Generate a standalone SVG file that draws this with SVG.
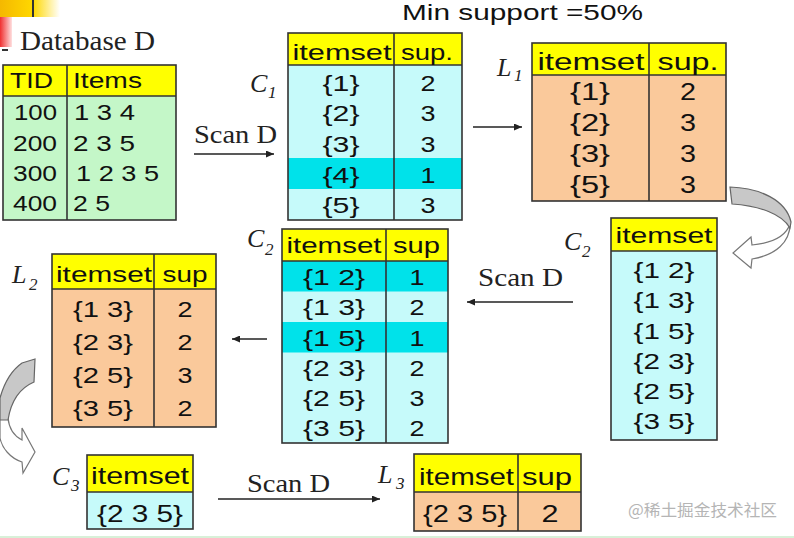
<svg xmlns="http://www.w3.org/2000/svg" width="794" height="538" viewBox="0 0 794 538">
<defs>
<linearGradient id="gl" x1="0" y1="0" x2="1" y2="0">
<stop offset="0" stop-color="#6e6e6e"/><stop offset="0.35" stop-color="#9a9a9a"/><stop offset="1" stop-color="#d8d8d8"/>
</linearGradient>
<linearGradient id="gy" x1="0" y1="0" x2="1" y2="0">
<stop offset="0" stop-color="#f5b800"/><stop offset="0.55" stop-color="#ffd800"/><stop offset="1" stop-color="#ffffff"/>
</linearGradient>
<linearGradient id="gr" x1="0" y1="0" x2="1" y2="0">
<stop offset="0" stop-color="#f03030"/><stop offset="1" stop-color="#ffe0e0"/>
</linearGradient>
<linearGradient id="gb" x1="0" y1="0" x2="1" y2="0">
<stop offset="0" stop-color="#2030c0"/><stop offset="1" stop-color="#ffffff"/>
</linearGradient>
<marker id="ah" markerUnits="userSpaceOnUse" markerWidth="8" markerHeight="7" refX="8" refY="3.5" orient="auto">
<path d="M0,0 L8,3.5 L0,7 Z" fill="#222"/>
</marker>
</defs>
<style>
.hdr{fill:#ffff00}
.grn{fill:#c4f7c8}
.cy{fill:#c6fafa}
.hi{fill:#00e2ea}
.or{fill:#fac99b}
.frame{fill:none;stroke:#333;stroke-width:1.6}
.ln{stroke:#333;stroke-width:1.6}
.t{font-family:"Liberation Sans",Arial,sans-serif;font-size:22px;fill:#111}
.big{font-size:23px}
.b24{font-size:24px}
.c{text-anchor:middle}
.s{font-family:"Liberation Serif","Times New Roman",serif;fill:#222}
.lab{font-style:italic;font-size:26px}
.sub{font-style:italic;font-size:17px}
.scan{font-size:26px}
.arr{stroke:#222;stroke-width:1.3;fill:none;marker-end:url(#ah)}
.cg{fill:#c8c8c8;stroke:#666;stroke-width:1.2}
.cw{fill:#ffffff;stroke:#777;stroke-width:1.2}
</style>

<g id="decor">
<rect x="0" y="0" width="60" height="17" fill="url(#gy)"/>
<line x1="33" y1="0" x2="33" y2="17" stroke="#333" stroke-width="2"/>
<rect x="0" y="17" width="12" height="30" fill="url(#gr)"/>
<line x1="160" y1="50" x2="794" y2="50" stroke="url(#gl)" stroke-width="3"/>
<rect x="12" y="18" width="150" height="44" fill="#ffffff"/>
<line x1="12" y1="62" x2="70" y2="62" stroke="url(#gb)" stroke-width="2"/>
<line x1="2" y1="50" x2="8" y2="50" stroke="#333" stroke-width="2"/>
<text class="s" x="20" y="50" font-size="27" textLength="135" lengthAdjust="spacingAndGlyphs">Database D</text>
<text class="t" x="402" y="20" font-size="24" textLength="241" lengthAdjust="spacingAndGlyphs">Min support =50%</text>
<line x1="0" y1="537" x2="794" y2="537" stroke="#d8f0d8" stroke-width="2"/>
</g>

<g id="db">
<rect class="grn" x="3" y="65" width="173" height="155"/>
<rect class="hdr" x="3" y="65" width="173" height="31"/>
<line class="ln" x1="3" y1="96" x2="176" y2="96"/>
<line class="ln" x1="67" y1="65" x2="67" y2="220"/>
<rect class="frame" x="3" y="65" width="173" height="155"/>
<text class="t" x="10" y="88" textLength="43" lengthAdjust="spacingAndGlyphs">TID</text>
<text class="t" x="73" y="88" textLength="69" lengthAdjust="spacingAndGlyphs">Items</text>
<text class="t" x="14" y="120" textLength="43" lengthAdjust="spacingAndGlyphs">100</text>
<text class="t" x="74" y="120" textLength="61" lengthAdjust="spacingAndGlyphs">1 3 4</text>
<text class="t" x="13" y="151" textLength="44" lengthAdjust="spacingAndGlyphs">200</text>
<text class="t" x="73" y="151" textLength="62" lengthAdjust="spacingAndGlyphs">2 3 5</text>
<text class="t" x="13" y="181" textLength="44" lengthAdjust="spacingAndGlyphs">300</text>
<text class="t" x="76" y="181" textLength="83" lengthAdjust="spacingAndGlyphs">1 2 3 5</text>
<text class="t" x="13" y="211" textLength="44" lengthAdjust="spacingAndGlyphs">400</text>
<text class="t" x="73" y="211" textLength="37" lengthAdjust="spacingAndGlyphs">2 5</text>
</g>

<g id="c1">
<rect class="cy" x="288" y="33" width="174" height="187"/>
<rect class="hi" x="288" y="158" width="174" height="31"/>
<rect class="hdr" x="288" y="33" width="174" height="32"/>
<line class="ln" x1="288" y1="65" x2="462" y2="65"/>
<line class="ln" x1="394" y1="33" x2="394" y2="220"/>
<rect class="frame" x="288" y="33" width="174" height="187"/>
<text class="t c" x="342" y="60" textLength="99" lengthAdjust="spacingAndGlyphs">itemset</text>
<text class="t c" x="427" y="60" textLength="52" lengthAdjust="spacingAndGlyphs">sup.</text>
<text class="t c" x="341" y="91" textLength="37" lengthAdjust="spacingAndGlyphs">{1}</text>
<text class="t c" x="341" y="121" textLength="37" lengthAdjust="spacingAndGlyphs">{2}</text>
<text class="t c" x="341" y="152" textLength="37" lengthAdjust="spacingAndGlyphs">{3}</text>
<text class="t c" x="341" y="183" textLength="37" lengthAdjust="spacingAndGlyphs">{4}</text>
<text class="t c" x="341" y="213" textLength="37" lengthAdjust="spacingAndGlyphs">{5}</text>
<text class="t c" x="428" y="91" textLength="15" lengthAdjust="spacingAndGlyphs">2</text>
<text class="t c" x="428" y="121" textLength="15" lengthAdjust="spacingAndGlyphs">3</text>
<text class="t c" x="428" y="152" textLength="15" lengthAdjust="spacingAndGlyphs">3</text>
<text class="t c" x="428" y="183" textLength="15" lengthAdjust="spacingAndGlyphs">1</text>
<text class="t c" x="428" y="213" textLength="15" lengthAdjust="spacingAndGlyphs">3</text>
<text class="s lab" x="250" y="92">C</text>
<text class="s sub" x="268" y="98">1</text>
</g>

<g id="l1">
<rect class="or" x="532" y="43" width="194" height="158"/>
<rect class="hdr" x="532" y="43" width="194" height="32"/>
<line class="ln" x1="532" y1="75" x2="726" y2="75"/>
<line class="ln" x1="649" y1="43" x2="649" y2="201"/>
<rect class="frame" x="532" y="43" width="194" height="158"/>
<text class="t big c" x="591" y="70" textLength="107" lengthAdjust="spacingAndGlyphs">itemset</text>
<text class="t big c" x="688" y="70" textLength="61" lengthAdjust="spacingAndGlyphs">sup.</text>
<text class="t big c" x="590" y="100" textLength="40" lengthAdjust="spacingAndGlyphs">{1}</text>
<text class="t big c" x="590" y="131" textLength="40" lengthAdjust="spacingAndGlyphs">{2}</text>
<text class="t big c" x="590" y="162" textLength="40" lengthAdjust="spacingAndGlyphs">{3}</text>
<text class="t big c" x="590" y="193" textLength="40" lengthAdjust="spacingAndGlyphs">{5}</text>
<text class="t big c" x="688" y="100" textLength="16" lengthAdjust="spacingAndGlyphs">2</text>
<text class="t big c" x="688" y="131" textLength="16" lengthAdjust="spacingAndGlyphs">3</text>
<text class="t big c" x="688" y="162" textLength="16" lengthAdjust="spacingAndGlyphs">3</text>
<text class="t big c" x="688" y="193" textLength="16" lengthAdjust="spacingAndGlyphs">3</text>
<text class="s lab" x="497" y="76">L</text>
<text class="s sub" x="514" y="81">1</text>
</g>

<g id="c2r">
<rect class="cy" x="611" y="218" width="106" height="222"/>
<rect class="hdr" x="611" y="218" width="106" height="33"/>
<line class="ln" x1="611" y1="251" x2="717" y2="251"/>
<rect class="frame" x="611" y="218" width="106" height="222"/>
<text class="t c" x="664" y="243" textLength="97" lengthAdjust="spacingAndGlyphs">itemset</text>
<text class="t c" x="664" y="278" textLength="61" lengthAdjust="spacingAndGlyphs">{1 2}</text>
<text class="t c" x="664" y="308" textLength="61" lengthAdjust="spacingAndGlyphs">{1 3}</text>
<text class="t c" x="664" y="339" textLength="61" lengthAdjust="spacingAndGlyphs">{1 5}</text>
<text class="t c" x="664" y="369" textLength="61" lengthAdjust="spacingAndGlyphs">{2 3}</text>
<text class="t c" x="664" y="399" textLength="61" lengthAdjust="spacingAndGlyphs">{2 5}</text>
<text class="t c" x="664" y="429" textLength="61" lengthAdjust="spacingAndGlyphs">{3 5}</text>
<text class="s lab" x="564" y="250">C</text>
<text class="s sub" x="582" y="257">2</text>
</g>

<g id="c2m">
<rect class="cy" x="282" y="229" width="166" height="214"/>
<rect class="hi" x="282" y="261" width="166" height="30.5"/>
<rect class="hi" x="282" y="322" width="166" height="30.5"/>
<rect class="hdr" x="282" y="229" width="166" height="32"/>
<line class="ln" x1="282" y1="261" x2="448" y2="261"/>
<line class="ln" x1="386" y1="229" x2="386" y2="443"/>
<rect class="frame" x="282" y="229" width="166" height="214"/>
<text class="t c" x="334" y="253" textLength="95" lengthAdjust="spacingAndGlyphs">itemset</text>
<text class="t c" x="416.5" y="253" textLength="47" lengthAdjust="spacingAndGlyphs">sup</text>
<text class="t c" x="334" y="285" textLength="62" lengthAdjust="spacingAndGlyphs">{1 2}</text>
<text class="t c" x="334" y="315" textLength="62" lengthAdjust="spacingAndGlyphs">{1 3}</text>
<text class="t c" x="334" y="345.5" textLength="62" lengthAdjust="spacingAndGlyphs">{1 5}</text>
<text class="t c" x="334" y="375.5" textLength="62" lengthAdjust="spacingAndGlyphs">{2 3}</text>
<text class="t c" x="334" y="406" textLength="62" lengthAdjust="spacingAndGlyphs">{2 5}</text>
<text class="t c" x="334" y="436" textLength="62" lengthAdjust="spacingAndGlyphs">{3 5}</text>
<text class="t c" x="417" y="285" textLength="15" lengthAdjust="spacingAndGlyphs">1</text>
<text class="t c" x="417" y="315" textLength="15" lengthAdjust="spacingAndGlyphs">2</text>
<text class="t c" x="417" y="345.5" textLength="15" lengthAdjust="spacingAndGlyphs">1</text>
<text class="t c" x="417" y="375.5" textLength="15" lengthAdjust="spacingAndGlyphs">2</text>
<text class="t c" x="417" y="406" textLength="15" lengthAdjust="spacingAndGlyphs">3</text>
<text class="t c" x="417" y="436" textLength="15" lengthAdjust="spacingAndGlyphs">2</text>
<text class="s lab" x="247" y="247">C</text>
<text class="s sub" x="265" y="255">2</text>
</g>

<g id="l2">
<rect class="or" x="52" y="254" width="164" height="173"/>
<rect class="hdr" x="52" y="254" width="164" height="35"/>
<line class="ln" x1="52" y1="289" x2="216" y2="289"/>
<line class="ln" x1="154" y1="254" x2="154" y2="427"/>
<rect class="frame" x="52" y="254" width="164" height="173"/>
<text class="t c" x="104" y="282" textLength="96" lengthAdjust="spacingAndGlyphs">itemset</text>
<text class="t c" x="185" y="282" textLength="45" lengthAdjust="spacingAndGlyphs">sup</text>
<text class="t c" x="103" y="317" textLength="60" lengthAdjust="spacingAndGlyphs">{1 3}</text>
<text class="t c" x="103" y="350" textLength="60" lengthAdjust="spacingAndGlyphs">{2 3}</text>
<text class="t c" x="103" y="383" textLength="60" lengthAdjust="spacingAndGlyphs">{2 5}</text>
<text class="t c" x="103" y="416" textLength="60" lengthAdjust="spacingAndGlyphs">{3 5}</text>
<text class="t c" x="185" y="317" textLength="15" lengthAdjust="spacingAndGlyphs">2</text>
<text class="t c" x="185" y="350" textLength="15" lengthAdjust="spacingAndGlyphs">2</text>
<text class="t c" x="185" y="383" textLength="15" lengthAdjust="spacingAndGlyphs">3</text>
<text class="t c" x="185" y="416" textLength="15" lengthAdjust="spacingAndGlyphs">2</text>
<text class="s lab" x="12" y="283">L</text>
<text class="s sub" x="29" y="290">2</text>
</g>

<g id="c3">
<rect class="cy" x="87" y="455" width="106" height="74"/>
<rect class="hdr" x="87" y="455" width="106" height="37"/>
<line class="ln" x1="87" y1="492" x2="193" y2="492"/>
<rect class="frame" x="87" y="455" width="106" height="74"/>
<text class="t b24 c" x="140" y="484" textLength="98" lengthAdjust="spacingAndGlyphs">itemset</text>
<text class="t b24 c" x="140" y="522" textLength="86" lengthAdjust="spacingAndGlyphs">{2 3 5}</text>
<text class="s lab" x="52" y="485">C</text>
<text class="s sub" x="71" y="491">3</text>
</g>

<g id="l3">
<rect class="or" x="414" y="454" width="167" height="77"/>
<rect class="hdr" x="414" y="454" width="167" height="38"/>
<line class="ln" x1="414" y1="492" x2="581" y2="492"/>
<line class="ln" x1="518" y1="454" x2="518" y2="531"/>
<rect class="frame" x="414" y="454" width="167" height="77"/>
<text class="t b24 c" x="466.5" y="485" textLength="95" lengthAdjust="spacingAndGlyphs">itemset</text>
<text class="t b24 c" x="547" y="485" textLength="50" lengthAdjust="spacingAndGlyphs">sup</text>
<text class="t b24 c" x="465" y="522" textLength="84" lengthAdjust="spacingAndGlyphs">{2 3 5}</text>
<text class="t b24 c" x="550" y="522" textLength="17" lengthAdjust="spacingAndGlyphs">2</text>
<text class="s lab" x="378" y="483">L</text>
<text class="s sub" x="396" y="489">3</text>
</g>

<g id="connectors">
<line class="arr" x1="194" y1="154" x2="274" y2="154"/>
<line class="arr" x1="473" y1="127" x2="522" y2="127"/>
<line class="arr" x1="573" y1="302" x2="467" y2="302"/>
<line class="arr" x1="267" y1="339" x2="232" y2="339"/>
<line class="arr" x1="218" y1="499" x2="380" y2="499"/>
<text class="s scan" x="194" y="143" textLength="83" lengthAdjust="spacingAndGlyphs">Scan D</text>
<text class="s scan" x="478" y="286" textLength="85" lengthAdjust="spacingAndGlyphs">Scan D</text>
<text class="s scan" x="247" y="492" textLength="83" lengthAdjust="spacingAndGlyphs">Scan D</text>
<path class="cw" d="M790,224 C786,236 772,243 752,245 L751,237 L733,253 L751,268 L752,259 C776,255 790,242 790,224 Z"/>
<path class="cg" d="M730,187 C760,188 786,200 791,222 L790,228 C782,214 760,206 732,204 Z"/>
<path class="cw" d="M8,418 C9,428 14,436 22,440 L22,428 L35,452 L23,473 L22,462 C10,458 2,448 0,438 L0,418 Z"/>
<path class="cg" d="M22,363 L35,359 L34,382 C20,388 11,401 8,420 L0,420 L0,398 C5,380 12,370 22,363 Z"/>
</g>

<text x="628" y="516" font-family="'Noto Sans CJK SC','Noto Sans',sans-serif" font-size="16" fill="#b5b5b5" textLength="149" lengthAdjust="spacingAndGlyphs">@稀土掘金技术社区</text>
</svg>
